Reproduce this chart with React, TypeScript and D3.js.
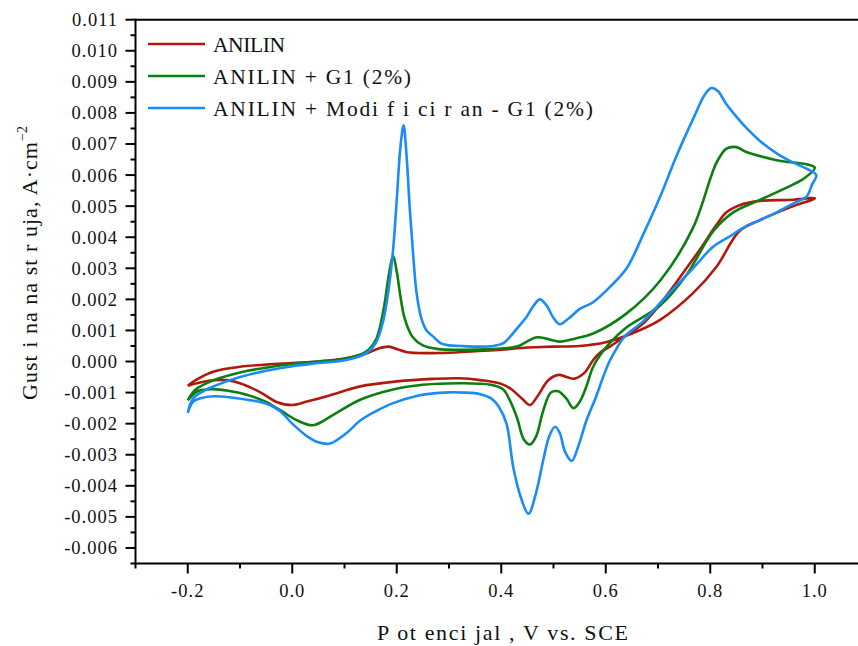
import React from 'react'
import * as d3 from 'd3'

// ANILIN
const aniE = [-0.2, -0.185, -0.15, -0.1, -0.05, 0.0, 0.05, 0.1, 0.14, 0.165, 0.185, 0.2, 0.22, 0.26, 0.3, 0.35, 0.4, 0.45, 0.5, 0.55, 0.6, 0.65, 0.704, 0.767, 0.812, 0.856, 0.895, 0.959, 1.0,
  0.95, 0.895, 0.856, 0.831, 0.812, 0.78, 0.75, 0.72, 0.672, 0.635, 0.608, 0.59, 0.576, 0.56, 0.54, 0.525, 0.51, 0.49, 0.47, 0.455, 0.44, 0.42, 0.4, 0.36, 0.32, 0.27, 0.2, 0.13, 0.07, 0.03, 0.0, -0.03, -0.06, -0.1, -0.125, -0.16, -0.2]
const aniI = [-0.00078, -0.0006, -0.00032, -0.00017, -0.0001, -0.00005, 0.0, 0.0001, 0.00025, 0.00042, 0.00048, 0.0004, 0.0003, 0.00027, 0.00028, 0.00033, 0.00038, 0.00045, 0.00048, 0.0005, 0.00062, 0.0009, 0.00134, 0.0022, 0.00305, 0.0042, 0.00455, 0.005, 0.00525,
  0.0052, 0.00517, 0.00503, 0.0048, 0.0044, 0.0036, 0.0029, 0.0022, 0.00123, 0.0008, 0.00048, 0.0003, 0.00005, -0.00035, -0.00055, -0.0005, -0.00043, -0.0006, -0.0011, -0.0014, -0.0012, -0.0009, -0.00072, -0.0006, -0.00054, -0.00056, -0.00064, -0.0008, -0.0011, -0.00128, -0.0014, -0.0013, -0.001, -0.0007, -0.0006, -0.00062, -0.00078]

// ANILIN + G1 (2%)
const g1E = [-0.2, -0.185, -0.15, -0.1, -0.05, 0.0, 0.05, 0.1, 0.14, 0.16, 0.175, 0.185, 0.193, 0.2, 0.207, 0.215, 0.23, 0.25, 0.28, 0.32, 0.38, 0.43, 0.45, 0.468, 0.49, 0.512, 0.544, 0.576, 0.64, 0.704, 0.767, 0.812, 0.831, 0.85, 0.869, 0.927, 1.0,
  0.98, 0.959, 0.895, 0.844, 0.806, 0.755, 0.704, 0.64, 0.608, 0.589, 0.575, 0.563, 0.55, 0.538, 0.525, 0.509, 0.495, 0.48, 0.467, 0.455, 0.443, 0.43, 0.415, 0.404, 0.38, 0.321, 0.25, 0.193, 0.13, 0.08, 0.04, 0.01, -0.02, -0.05, -0.087, -0.12, -0.151, -0.18, -0.2]
const g1I = [-0.00125, -0.0009, -0.0006, -0.00035, -0.0002, -0.00008, 0.0, 0.00008, 0.0003, 0.0007, 0.0017, 0.0028, 0.0034, 0.0029, 0.0021, 0.0014, 0.0008, 0.00052, 0.0004, 0.00038, 0.0004, 0.00048, 0.00065, 0.00078, 0.00072, 0.00064, 0.00075, 0.0009, 0.00155, 0.0026, 0.0043, 0.0064, 0.00685, 0.0069, 0.00674, 0.00648, 0.00624,
  0.0059, 0.0057, 0.0052, 0.0048, 0.0042, 0.0028, 0.0018, 0.0011, 0.0006, 0.0002, -0.0002, -0.0008, -0.0013, -0.0015, -0.0012, -0.00096, -0.001, -0.0016, -0.0024, -0.00267, -0.0025, -0.0018, -0.0012, -0.0009, -0.00075, -0.0007, -0.00075, -0.0009, -0.00123, -0.0017, -0.00205, -0.0019, -0.0016, -0.0013, -0.00107, -0.00095, -0.00089, -0.00095, -0.00125]

// ANILIN + Modificiran - G1 (2%)
const modE = [-0.2, -0.19, -0.17, -0.151, -0.1, -0.05, 0.0, 0.05, 0.104, 0.142, 0.16, 0.174, 0.185, 0.193, 0.2, 0.207, 0.213, 0.218, 0.225, 0.232, 0.238, 0.247, 0.257, 0.27, 0.283, 0.3, 0.321, 0.35, 0.385, 0.405, 0.417, 0.432, 0.449, 0.462, 0.474, 0.487, 0.5, 0.512, 0.53, 0.551, 0.575, 0.608, 0.64, 0.672, 0.704, 0.735, 0.767, 0.79, 0.802, 0.815, 0.83, 0.844, 0.87, 0.895, 0.927, 0.959, 0.985, 1.003,
  0.995, 0.984, 0.96, 0.927, 0.895, 0.863, 0.835, 0.806, 0.767, 0.716, 0.672, 0.636, 0.62, 0.607, 0.595, 0.58, 0.563, 0.548, 0.535, 0.522, 0.512, 0.503, 0.492, 0.48, 0.467, 0.452, 0.438, 0.423, 0.41, 0.395, 0.38, 0.36, 0.33, 0.289, 0.24, 0.193, 0.16, 0.13, 0.104, 0.072, 0.05, 0.028, 0.0, -0.023, -0.05, -0.087, -0.12, -0.151, -0.175, -0.19, -0.2]
const modI = [-0.00165, -0.0012, -0.00095, -0.0008, -0.0005, -0.0003, -0.00015, -0.00005, 0.00005, 0.00027, 0.0006, 0.0013, 0.0024, 0.0036, 0.0052, 0.0069, 0.0076, 0.0068, 0.0049, 0.0033, 0.0022, 0.0014, 0.001, 0.0008, 0.0006, 0.00052, 0.0005, 0.00048, 0.0005, 0.0006, 0.0008, 0.0011, 0.00145, 0.0018, 0.002, 0.0018, 0.0014, 0.0012, 0.0014, 0.0017, 0.0019, 0.0024, 0.003, 0.0041, 0.0053, 0.0066, 0.0078, 0.0086, 0.0088, 0.0087, 0.0083, 0.008, 0.0075, 0.0071, 0.0067, 0.0064, 0.0062, 0.006,
  0.0057, 0.0053, 0.0051, 0.0048, 0.00455, 0.0043, 0.004, 0.0037, 0.003, 0.0021, 0.0013, 0.0008, 0.0004, 0.0, -0.0005, -0.0012, -0.0019, -0.0027, -0.0032, -0.0029, -0.0023, -0.0021, -0.0024, -0.0032, -0.0042, -0.0049, -0.0044, -0.0034, -0.002, -0.00145, -0.00118, -0.00105, -0.001, -0.001, -0.0011, -0.00134, -0.0016, -0.0019, -0.0023, -0.00264, -0.0026, -0.0024, -0.002, -0.0016, -0.00135, -0.00123, -0.00115, -0.00112, -0.00118, -0.0013, -0.00165]

const seriesNames = ['ANILIN', 'ANILIN + G1 (2%)', 'ANILIN + Modi f i ci r an - G1 (2%)']
const seriesColors = ['#b01a0e', '#0d7f10', '#1a8cf8']
const legendWidths = [72, 198, 380]
const xTicks = [-0.2, 0.0, 0.2, 0.4, 0.6, 0.8, 1.0]
const yTicks = [-0.006, -0.005, -0.004, -0.003, -0.002, -0.001, 0, 0.001, 0.002, 0.003, 0.004, 0.005, 0.006, 0.007, 0.008, 0.009, 0.010, 0.011]

const W = 858, H = 646
const font = "'Liberation Serif', 'Times New Roman', serif"

const App = () => {
  const x = d3.scaleLinear().domain([-0.3, 1.1]).range([135.5, 867])
  const y = d3.scaleLinear().domain([-0.0065, 0.011]).range([563.5, 19.7])

  const series = [[aniE, aniI], [g1E, g1I], [modE, modI]].map(([es, is]) =>
    es.map((e, i) => [e, is[i]] as [number, number]))

  const line = d3.line<[number, number]>()
    .x(d => x(d[0]))
    .y(d => y(d[1]))
    .curve(d3.curveCatmullRom.alpha(0.5))

  const xMinor = d3.range(-3, 11).map(v => v / 10).filter(v => !xTicks.some(t => Math.abs(t - v) < 1e-9))
  const yMinor = d3.range(-13, 22).map(v => v * 0.0005).filter(v => !yTicks.some(t => Math.abs(t - v) < 1e-9))

  const x0 = x.range()[0]
  const yTop = y.range()[1], yBot = y.range()[0]
  const txt = {fontFamily: font, fill: '#111'}

  return (
    <svg width={W} height={H} style={{position: 'absolute', left: 0, top: 0, background: '#fff'}}>
      {series.map((pts, i) => (
        <path key={i} d={line(pts) || ''} fill="none" stroke={seriesColors[i]} strokeWidth={2.6} strokeLinejoin="round" />
      ))}

      {/* frame */}
      <line x1={x0} x2={W} y1={yTop} y2={yTop} stroke="#000" strokeWidth={2} />
      <line x1={x0} x2={W} y1={yBot} y2={yBot} stroke="#000" strokeWidth={2} />
      <line x1={x0} x2={x0} y1={yTop - 1} y2={yBot + 1} stroke="#000" strokeWidth={2} />

      {/* y axis */}
      {yTicks.map(t => (
        <g key={t}>
          <line x1={x0 - 10} x2={x0} y1={y(t)} y2={y(t)} stroke="#000" strokeWidth={2} />
          <text x={118} y={y(t)} dy="0.35em" textAnchor="end" fontSize={18.5} letterSpacing={1} style={txt}>{t.toFixed(3)}</text>
        </g>
      ))}
      {yMinor.map(t => (
        <line key={t} x1={x0 - 5} x2={x0} y1={y(t)} y2={y(t)} stroke="#000" strokeWidth={2} />
      ))}

      {/* x axis */}
      {xTicks.map(t => (
        <g key={t}>
          <line x1={x(t)} x2={x(t)} y1={yBot} y2={yBot + 10} stroke="#000" strokeWidth={2} />
          <text x={x(t)} y={597} textAnchor="middle" fontSize={18.5} letterSpacing={1} style={txt}>{t.toFixed(1)}</text>
        </g>
      ))}
      {xMinor.map(t => (
        <line key={t} x1={x(t)} x2={x(t)} y1={yBot} y2={yBot + 5} stroke="#000" strokeWidth={2} />
      ))}

      <text x={377} y={640} fontSize={22} textLength={251} lengthAdjust="spacing" style={txt}>P ot enci jal , V vs. SCE</text>
      <text transform="translate(37,400) rotate(-90)" fontSize={22} style={txt}>
        <tspan textLength={258} lengthAdjust="spacing">Gust i na na st r uja, A·cm</tspan>
        <tspan fontSize={14} dy={-10}>−2</tspan>
      </text>

      {/* legend */}
      {seriesNames.map((n, i) => (
        <g key={n} transform={`translate(148,${44 + i * 32})`}>
          <line x1={0} x2={57} y1={0} y2={0} stroke={seriesColors[i]} strokeWidth={2.6} />
          <text x={65} y={0} dy="0.35em" fontSize={21.5} textLength={legendWidths[i]} lengthAdjust="spacing" style={txt}>{n}</text>
        </g>
      ))}
    </svg>
  )
}

export default App
